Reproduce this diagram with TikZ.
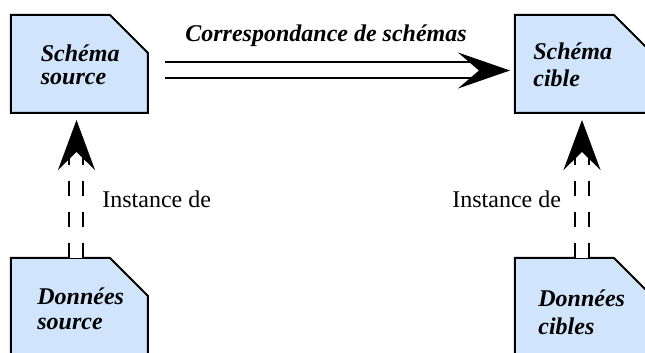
\documentclass[tikz,border=0pt]{standalone}
\usepackage{fontspec}
\setmainfont{Liberation Serif}
\usetikzlibrary{arrows.meta,calc}
\definecolor{boxblue}{RGB}{208,228,252}
\newcommand{\chboxdraw}[1]{%
  \draw[boxline] (#1.south west) -- (#1.north west) -- ([xshift=-19pt]#1.north east)
    -- ([yshift=-19pt]#1.north east) -- (#1.south east) -- cycle;}
\newcommand{\twolines}[2]{\begin{tabular}[t]{@{}l@{}}#1\\#2\end{tabular}}
\begin{document}
\begin{tikzpicture}[x=0.5pt,y=-0.5pt,
  box/.style={rectangle, minimum width=68.5pt, minimum height=49pt, inner sep=0pt, outer sep=0pt},
  boxline/.style={draw=black, line width=1pt, fill=boxblue, line join=miter},
  lbl/.style={font=\fontsize{12pt}{#1}\selectfont\bfseries\itshape, inner sep=0pt, anchor=base west},
  inst/.style={font=\fontsize{12pt}{14pt}\selectfont, inner sep=0pt, anchor=base west},
  maparrow/.style={double, double distance=7pt, line width=1pt,
    -{Stealth[length=26pt, width=18pt, inset=10.5pt]}},
  instarrow/.style={double, double distance=6pt, line width=1pt,
    dash pattern=on 7.5pt off 8pt,
    -{Stealth[length=25pt, width=18.5pt, inset=9pt]}}]
\clip (0,0) rectangle (645,353);
% boxes
\node[box] (ss) at (79.5,64) {};
\node[box] (sc) at (583.5,64) {};
\node[box] (ds) at (79.5,307) {};
\node[box] (dc) at (583.5,307) {};
\chboxdraw{ss}
\chboxdraw{sc}
\chboxdraw{ds}
\chboxdraw{dc}
% connectors
\draw[maparrow] ($(ss.east)+(17,6.5)$) -- ($(sc.west)+(-5,6.5)$);
\draw[instarrow] ($(ds.north)+(-3,0)$) -- ($(ss.south)+(-3,7)$);
\draw[instarrow] ($(dc.north)+(-1.5,0)$) -- ($(sc.south)+(-1.5,7)$);
% texts
\node[lbl=11.5pt] (sst) at (40.5,62) {\twolines{Schéma}{source}};
\node[lbl=13.5pt] (sct) at (533,60) {\twolines{Schéma}{cible}};
\node[lbl=12.5pt] (dst) at (37,305) {\twolines{Données}{source}};
\node[lbl=14pt] (dct) at (538,307) {\twolines{Données}{cibles}};
\node[lbl=14pt] (map) at (185,42) {Correspondance de schémas};
\node[inst] (inl) at (102,208) {Instance de};
\node[inst] (inr) at (452,208) {Instance de};
\end{tikzpicture}
\end{document}
